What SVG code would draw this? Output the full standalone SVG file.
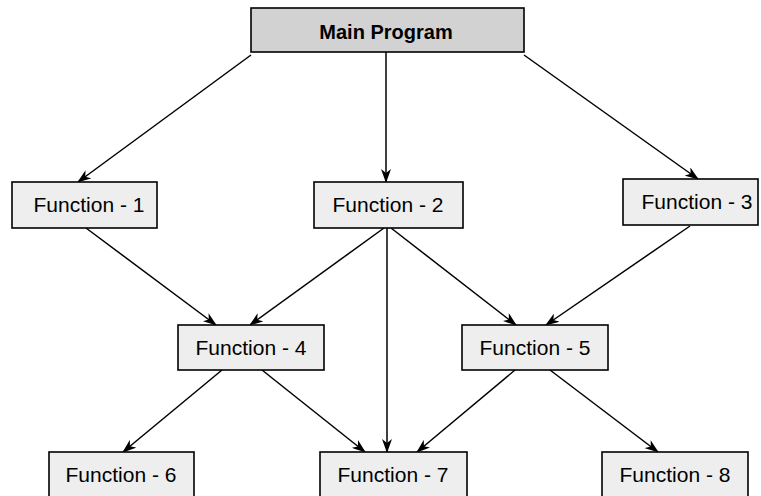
<svg xmlns="http://www.w3.org/2000/svg" width="761" height="496" viewBox="0 0 761 496">
<style>
.box{fill:#eeeeee;stroke:#000;stroke-width:1.6}
.main{fill:#d2d2d2;stroke:#000;stroke-width:1.6}
.lbl{font-family:"Liberation Sans",Arial,sans-serif;font-size:21px;fill:#000;text-anchor:middle}
.mlbl{font-family:"Liberation Sans",Arial,sans-serif;font-size:20px;font-weight:bold;fill:#000;text-anchor:middle}
.edge{stroke:#000;stroke-width:1.5;fill:none;marker-end:url(#ah)}
</style>
<defs>
<marker id="ah" markerUnits="userSpaceOnUse" markerWidth="14" markerHeight="10" refX="13" refY="5" orient="auto">
<path d="M0,0 L14,5 L0,10 L4,5 z" fill="#000"/>
</marker>
</defs>
<rect width="761" height="496" fill="#fff"/>
<g id="connectors">
<line class="edge" x1="251" y1="55" x2="78" y2="182"/>
<line class="edge" x1="386" y1="52" x2="386" y2="182"/>
<line class="edge" x1="524" y1="55" x2="698" y2="179"/>
<line class="edge" x1="86" y1="228" x2="216" y2="325"/>
<line class="edge" x1="384" y1="228" x2="250" y2="325"/>
<line class="edge" x1="387" y1="228" x2="387" y2="452"/>
<line class="edge" x1="391" y1="228" x2="516" y2="325"/>
<line class="edge" x1="690" y1="226" x2="546" y2="325"/>
<line class="edge" x1="222" y1="370" x2="123" y2="452"/>
<line class="edge" x1="262" y1="370" x2="365" y2="452"/>
<line class="edge" x1="515" y1="370" x2="417" y2="452"/>
<line class="edge" x1="550" y1="370" x2="658" y2="452"/>
</g>
<g id="main">
<rect class="main" x="251" y="8" width="273" height="44"/>
<text class="mlbl" x="386" y="39">Main Program</text>
</g>
<g id="f1">
<rect class="box" x="12" y="182" width="145" height="46"/>
<text class="lbl" x="89" y="212">Function - 1</text>
</g>
<g id="f2">
<rect class="box" x="314" y="182" width="149" height="46"/>
<text class="lbl" x="388" y="212">Function - 2</text>
</g>
<g id="f3">
<rect class="box" x="623" y="179" width="135" height="46"/>
<text class="lbl" x="697" y="209">Function - 3</text>
</g>
<g id="f4">
<rect class="box" x="178" y="325" width="146" height="45"/>
<text class="lbl" x="251" y="355">Function - 4</text>
</g>
<g id="f5">
<rect class="box" x="462" y="325" width="146" height="45"/>
<text class="lbl" x="535" y="355">Function - 5</text>
</g>
<g id="f6">
<rect class="box" x="49" y="452" width="145" height="60"/>
<text class="lbl" x="121" y="482">Function - 6</text>
</g>
<g id="f7">
<rect class="box" x="320" y="452" width="147" height="60"/>
<text class="lbl" x="393" y="482">Function - 7</text>
</g>
<g id="f8">
<rect class="box" x="602" y="452" width="146" height="60"/>
<text class="lbl" x="675" y="482">Function - 8</text>
</g>
</svg>
